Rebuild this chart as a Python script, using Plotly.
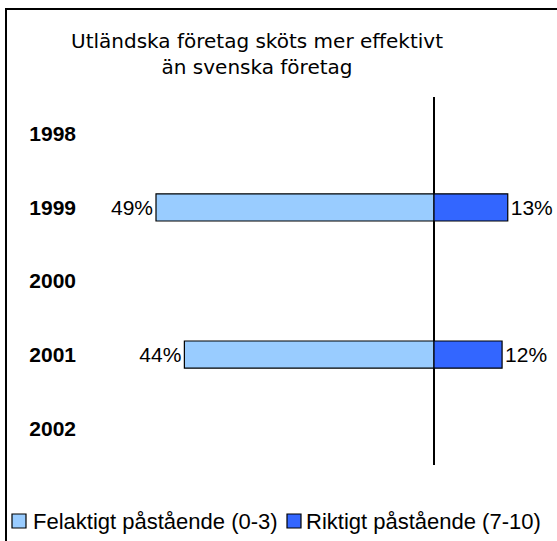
import plotly.graph_objects as go

years = ["1998", "1999", "2000", "2001", "2002"]
felaktigt = [None, 49, None, 44, None]   # Felaktigt påstående (0-3), %
riktigt = [None, 13, None, 12, None]     # Riktigt påstående (7-10), %
series_names = ["Felaktigt påstående (0-3)", "Riktigt påstående (7-10)"]
title_text = "Utländska företag sköts mer effektivt<br>än svenska företag"

W, H = 557, 541
ML, MR, MT, MB = 82, 0, 97, 76
PW, PH = W - ML - MR, H - MT - MB
ZERO_PX = 434
SCALE = 278 / 49.0  # px per percent
x_lo = -(ZERO_PX - ML) / SCALE
x_hi = (W - MR - ZERO_PX) / SCALE

def px(x):
    return (x - ML) / PW

def py(y):
    return (H - MB - y) / PH

LIGHT = "#99CCFF"
DARK = "#3366FF"
FONT = "Liberation Sans, Arial, sans-serif"

def lab(vals):
    return [f"{v}%" if v is not None else "" for v in vals]

fig = go.Figure()
fig.add_trace(go.Bar(
    y=years, x=[-v if v is not None else None for v in felaktigt],
    orientation="h", name=series_names[0], width=0.37,
    marker=dict(color=LIGHT, line=dict(color="black", width=1.2)),
    text=lab(felaktigt), textposition="outside", cliponaxis=False,
    constraintext="none", textfont=dict(family=FONT, size=21, color="black"),
    hoverinfo="skip", showlegend=False,
))
fig.add_trace(go.Bar(
    y=years, x=riktigt,
    orientation="h", name=series_names[1], width=0.37,
    marker=dict(color=DARK, line=dict(color="black", width=1.2)),
    text=lab(riktigt), textposition="outside", cliponaxis=False,
    constraintext="none", textfont=dict(family=FONT, size=21, color="black"),
    hoverinfo="skip", showlegend=False,
))

shapes = [
    dict(type="rect", xref="paper", yref="paper",
         x0=px(6), x1=px(700), y0=py(700), y1=py(9),
         line=dict(color="black", width=2), fillcolor="rgba(0,0,0,0)", layer="above"),
]
annotations = [
    dict(text=title_text, xref="paper", yref="paper", x=px(257), y=py(54),
         xanchor="center", yanchor="middle", showarrow=False, align="center",
         font=dict(family="DejaVu Sans, Verdana, sans-serif", size=20, color="black")),
]

# manual legend
leg_y = 521
items = [(12, 31, series_names[0], LIGHT), (287, 304, series_names[1], DARK)]
for sx, tx, name, col in items:
    shapes.append(dict(type="rect", xref="paper", yref="paper",
                       x0=px(sx), x1=px(sx + 14), y0=py(leg_y + 7), y1=py(leg_y - 7),
                       line=dict(color="black", width=1.2), fillcolor=col))
    annotations.append(dict(text=name, xref="paper", yref="paper", x=px(tx), y=py(leg_y),
                            xanchor="left", yanchor="middle", showarrow=False,
                            font=dict(family=FONT, size=22, color="black")))

fig.update_layout(
    width=W, height=H, barmode="overlay",
    margin=dict(l=ML, r=MR, t=MT, b=MB, pad=0),
    paper_bgcolor="white", plot_bgcolor="white",
    showlegend=False,
    xaxis=dict(range=[x_lo, x_hi], showgrid=False, showticklabels=False, ticks="",
               zeroline=True, zerolinecolor="black", zerolinewidth=1.5, showline=False),
    yaxis=dict(type="category", categoryorder="array", categoryarray=years,
               autorange="reversed", showgrid=False, ticks="", showline=False,
               zeroline=False, ticklabelstandoff=5,
               tickfont=dict(family=FONT, size=21, color="black", weight="bold")),
    shapes=shapes, annotations=annotations,
)

fig.write_html(
    "out.html",
    config={"displayModeBar": False},
    post_script="document.body.style.margin='0';document.body.style.overflow='hidden';",
)
